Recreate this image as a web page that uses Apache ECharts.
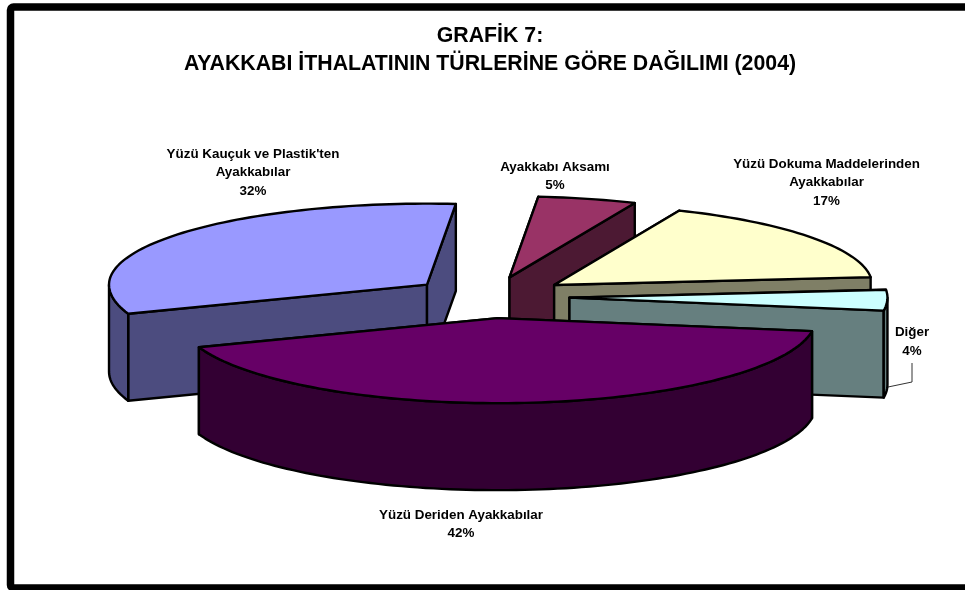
<!DOCTYPE html>
<html><head><meta charset="utf-8">
<style>html,body{margin:0;padding:0;background:#fff}#c{width:965px;height:590px}</style>
<script src="https://cdn.jsdelivr.net/npm/echarts@6/dist/echarts.min.js"></script>
</head><body><div id="c"></div>
<script>
const titleLines = ['GRAFİK 7:', 'AYAKKABI İTHALATININ TÜRLERİNE GÖRE DAĞILIMI (2004)'];
const categories = ["Yüzü Kauçuk ve Plastik'ten\nAyakkabılar", 'Ayakkabı Aksamı', 'Yüzü Dokuma Maddelerinden\nAyakkabılar', 'Diğer', 'Yüzü Deriden Ayakkabılar'];
const values = [32, 5, 17, 4, 42];
const topColors = ['#9999FF', '#993366', '#FFFFCC', '#CCFFFF', '#660066'];
const sideColors = ['#4C4C7F', '#4C1933', '#7F7F66', '#667F7F', '#330033'];

// layout of the tilted pie
const CX = 490, CY = 297, RX = 318, RY_FRONT = 85, RY_BACK = 81, DEPTH = 87, EXPLODE = 0.25, START_DEG = 160;
const labelCenters = [[253, 147.5], [555, 160.5], [826.5, 157.5], [912, 326], [461, 508.5]];
const LABEL_LH = 18.7;
const total = values.reduce((a, b) => a + b, 0);
const rad = d => d * Math.PI / 180;
const ellY = deg => { const s = Math.sin(rad(deg)); return s * (s < 0 ? RY_BACK : RY_FRONT); };

function renderSlice(params, api) {
  const i = params.dataIndex;
  let before = 0;
  for (let k = 0; k < i; k++) before += values[k];
  const a0 = START_DEG + before / total * 360;
  const a1 = a0 + api.value(0) / total * 360;
  const midDeg = (a0 + a1) / 2;
  const ax = CX + EXPLODE * RX * Math.cos(rad(midDeg));
  const ay = CY + EXPLODE * ellY(midDeg);
  const pt = (deg, dz) => [ax + RX * Math.cos(rad(deg)), ay + ellY(deg) + (dz || 0)];
  const arc = (from, to, dz) => {
    const n = Math.max(2, Math.ceil(Math.abs(to - from) / 1.5));
    const out = [];
    for (let s = 0; s <= n; s++) out.push(pt(from + (to - from) * s / n, dz));
    return out;
  };
  const line = { stroke: '#000', lineWidth: 2.4, lineJoin: 'round' };
  const poly = (points, fill) => ({ type: 'polygon', shape: { points }, style: Object.assign({ fill }, line) });
  const side = sideColors[i];
  const children = [];
  // radial faces
  [a0, a1].forEach(a => {
    const p = pt(a), q = pt(a, DEPTH);
    children.push(poly([[ax, ay], p, q, [ax, ay + DEPTH]], side));
  });
  // curved outer wall on the visible (front) half
  [[0, 180], [360, 540]].forEach(([lo, hi]) => {
    const from = Math.max(a0, lo), to = Math.min(a1, hi);
    if (to > from) children.push(poly(arc(from, to, 0).concat(arc(to, from, DEPTH)), side));
  });
  // top surface
  children.push(poly([[ax, ay]].concat(arc(a0, a1, 0)), topColors[i]));
  return { type: 'group', children };
}

function renderLabel(params, api) {
  const i = params.dataIndex;
  const c = labelCenters[i];
  const lines = categories[i].split('\n').concat([api.value(0) + '%']);
  return {
    type: 'group',
    children: lines.map((t, k) => ({
      type: 'text', z2: 100,
      style: { x: c[0], y: c[1] + k * LABEL_LH, text: t, fill: '#000', align: 'center', verticalAlign: 'top',
        font: 'bold 13.4px "Liberation Sans", Arial, sans-serif' }
    }))
  };
}

const seriesData = values.map((v, i) => ({ name: categories[i], value: [v] }));
const chart = echarts.init(document.getElementById('c'), null, { renderer: 'canvas' });
chart.setOption({
  animation: false,
  backgroundColor: '#fff',
  title: {
    text: titleLines.join('\n'), left: 485, top: 17, textAlign: 'center',
    textStyle: { fontFamily: '"Liberation Sans", Arial, sans-serif', fontWeight: 'bold', fontSize: 21.3, lineHeight: 28, color: '#000' }
  },
  graphic: [
    { type: 'rect', z: -1, shape: { x: 10.5, y: 7, width: 975, height: 581, r: 3 }, style: { fill: 'none', stroke: '#000', lineWidth: 7.5 } },
    { type: 'polyline', shape: { points: [[888, 387], [912, 382], [912, 363]] }, style: { fill: 'none', stroke: '#333', lineWidth: 1 } }
  ],
  series: [
    { type: 'custom', coordinateSystem: 'none', renderItem: renderSlice, data: seriesData, silent: true },
    { type: 'custom', coordinateSystem: 'none', renderItem: renderLabel, data: seriesData, silent: true }
  ]
});
</script></body></html>
